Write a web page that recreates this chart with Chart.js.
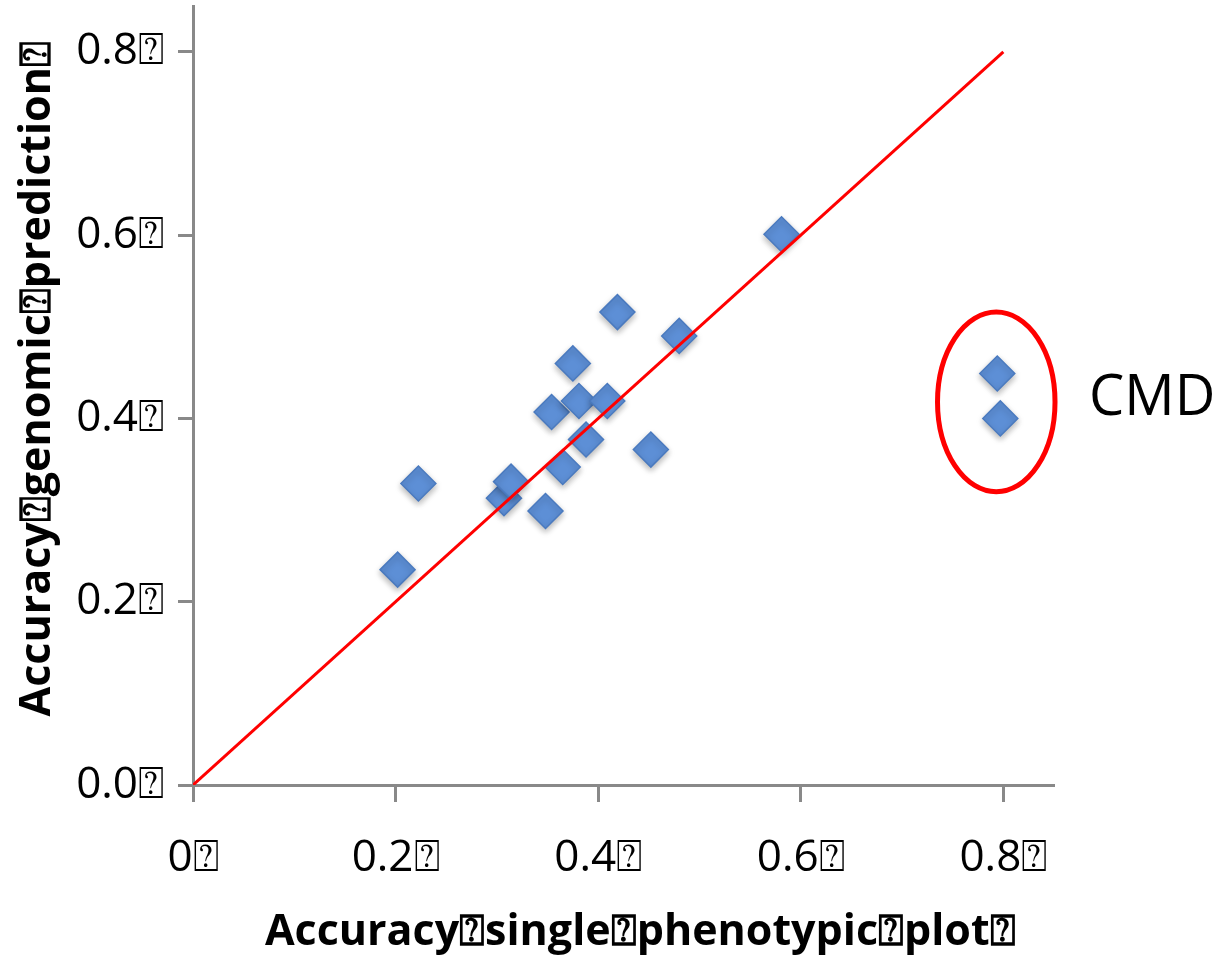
<!DOCTYPE html>
<html>
<head>
<meta charset="utf-8">
<script src="https://cdn.jsdelivr.net/npm/chart.js@4/dist/chart.umd.min.js"></script>
<style>
  html, body { margin: 0; padding: 0; background: #fff; }
  #wrap { width: 1223px; height: 964px; }
</style>
</head>
<body>
<div id="wrap"><canvas id="accChart" width="1223" height="964"></canvas></div>
<script>
// missing glyph as shown in the original figure
const Q = '\u2370';

// points: accuracy single phenotypic plot vs accuracy genomic prediction
const xVals = [0.202, 0.2225, 0.307, 0.314, 0.348, 0.354, 0.365, 0.375, 0.381, 0.388, 0.409, 0.419, 0.452, 0.480, 0.581, 0.794, 0.797];
const yVals = [0.235, 0.329, 0.313, 0.331, 0.299, 0.407, 0.347, 0.460, 0.419, 0.377, 0.419, 0.516, 0.366, 0.490, 0.601, 0.449, 0.400];

// 1:1 reference line
const lineX = [0, 0.8];
const lineY = [0, 0.8];

// axis ticks
const xTicks = [0, 0.2, 0.4, 0.6, 0.8];
const xTickLabels = ['0' + Q, '0.2' + Q, '0.4' + Q, '0.6' + Q, '0.8' + Q];
const yTicks = [0, 0.2, 0.4, 0.6, 0.8];
const yTickLabels = ['0.0' + Q, '0.2' + Q, '0.4' + Q, '0.6' + Q, '0.8' + Q];

// leading spaces nudge the titles off-centre, as in the original
const xTitle = '   Accuracy' + Q + 'single' + Q + 'phenotypic' + Q + 'plot' + Q;
const yTitle = '   Accuracy' + Q + 'genomic' + Q + 'prediction' + Q;

// CMD group marker
const cmdLabel = 'CMD';
const cmdCenter = [0.793, 0.418];
const cmdRadius = [0.058, 0.098];

const colors = {
    point: '#5d8fd6',
    pointBorder: '#4a7abf',
    line: '#ff0000',
    axis: '#898989',
    text: '#000000'
};

const fontFamily = "'Open Sans', 'DejaVu Sans', sans-serif";

const shadowPlugin = {
    id: 'pointShadow',
    beforeDatasetDraw(chart, args) {
        if (args.index !== 1) return;
        const ctx = chart.ctx;
        ctx.save();
        ctx.shadowColor = 'rgba(0,0,0,0.28)';
        ctx.shadowBlur = 6;
        ctx.shadowOffsetY = 3;
    },
    afterDatasetDraw(chart, args) {
        if (args.index !== 1) return;
        chart.ctx.restore();
    }
};

const cmdPlugin = {
    id: 'cmdMark',
    afterDatasetsDraw(chart) {
        const ctx = chart.ctx;
        const xs = chart.scales.x, ys = chart.scales.y;
        const cx = xs.getPixelForValue(cmdCenter[0]);
        const cy = ys.getPixelForValue(cmdCenter[1]);
        const rx = xs.getPixelForValue(cmdCenter[0] + cmdRadius[0]) - cx;
        const ry = cy - ys.getPixelForValue(cmdCenter[1] + cmdRadius[1]);
        ctx.save();
        ctx.beginPath();
        ctx.ellipse(cx, cy, rx, ry, 0, 0, Math.PI * 2);
        ctx.strokeStyle = colors.line;
        ctx.lineWidth = 5;
        ctx.stroke();
        ctx.font = "56px " + fontFamily;
        ctx.fillStyle = colors.text;
        ctx.textBaseline = 'middle';
        ctx.textAlign = 'left';
        ctx.fillText(cmdLabel, cx + rx + 34, cy - 3);
        ctx.restore();
    }
};

const ctx = document.getElementById('accChart').getContext('2d');
new Chart(ctx, {
    type: 'scatter',
    data: {
        datasets: [
            {
                type: 'line',
                data: lineX.map((x, i) => ({ x: x, y: lineY[i] })),
                borderColor: colors.line,
                borderWidth: 3,
                pointRadius: 0,
                fill: false
            },
            {
                data: xVals.map((x, i) => ({ x: x, y: yVals[i] })),
                pointStyle: 'rectRot',
                pointRadius: 17.5,
                pointBackgroundColor: colors.point,
                pointBorderColor: colors.pointBorder,
                pointBorderWidth: 1.5
            }
        ]
    },
    options: {
        responsive: false,
        animation: false,
        layout: { autoPadding: false, padding: { top: 6, right: 169, bottom: 0, left: 0 } },
        plugins: {
            legend: { display: false },
            tooltip: { enabled: false }
        },
        scales: {
            x: {
                type: 'linear',
                min: 0,
                max: 0.85,
                afterBuildTicks: (scale) => { scale.ticks = xTicks.map(v => ({ value: v })); },
                afterFit: (scale) => {
                    scale.height = 179;
                    scale.paddingLeft = 0;
                    scale.paddingRight = 0;
                },
                border: { color: colors.axis, width: 3 },
                grid: { drawOnChartArea: false, drawTicks: true, tickLength: 17, tickColor: colors.axis, tickWidth: 3 },
                ticks: {
                    padding: 30,
                    color: colors.text,
                    font: { family: fontFamily, size: 44 },
                    callback: (v, i) => xTickLabels[i]
                },
                title: {
                    display: true,
                    text: xTitle,
                    color: colors.text,
                    padding: { top: 0, bottom: 5 },
                    font: { family: fontFamily, size: 43, weight: 'bold' }
                }
            },
            y: {
                type: 'linear',
                min: 0,
                max: 0.85,
                afterBuildTicks: (scale) => { scale.ticks = yTicks.map(v => ({ value: v })); },
                afterFit: (scale) => {
                    scale.width = 193;
                    scale.paddingTop = 0;
                    scale.paddingBottom = 0;
                },
                border: { color: colors.axis, width: 3 },
                grid: { drawOnChartArea: false, drawTicks: true, tickLength: 15, tickColor: colors.axis, tickWidth: 3 },
                ticks: {
                    padding: 14,
                    color: colors.text,
                    font: { family: fontFamily, size: 44 },
                    callback: (v, i) => yTickLabels[i]
                },
                title: {
                    display: true,
                    text: yTitle,
                    color: colors.text,
                    padding: { top: 12, bottom: 0 },
                    font: { family: fontFamily, size: 43, weight: 'bold' }
                }
            }
        }
    },
    plugins: [shadowPlugin, cmdPlugin]
});
</script>
</body>
</html>
